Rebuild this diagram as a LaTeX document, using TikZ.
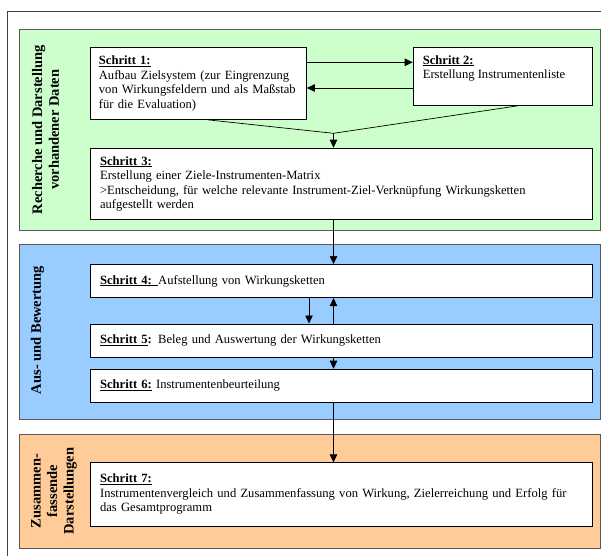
\documentclass[tikz,border=0pt]{standalone}
\usepackage{fontspec}
\setmainfont{Liberation Serif}
\usetikzlibrary{arrows.meta,calc}
\definecolor{greenbg}{HTML}{CCFFCC}
\definecolor{bluebg}{HTML}{99CCFF}
\definecolor{orangebg}{HTML}{FFCC99}
\newcommand{\bodyfnt}{\fontsize{12.6}{14.5}\selectfont}
\newcommand{\sidefnt}{\bfseries\fontsize{14.5}{16.6}\selectfont}
\newcommand{\ulbf}[1]{\leavevmode\setbox0=\hbox{\textbf{#1}}\rlap{\rule[-1.9pt]{\wd0}{1.1pt}}\box0\relax}
\begin{document}
\begin{tikzpicture}[x=1pt,y=-1pt,
  panel/.style={draw=black!65, line width=0.8pt, anchor=north west, inner sep=0pt, minimum width=580.5pt},
  stepbox/.style={draw=black, line width=0.8pt, fill=white, anchor=north west, align=left, inner xsep=9.7pt, inner ysep=0pt, font=\bodyfnt},
  sidelabel/.style={rotate=90, align=center, font=\sidefnt, inner sep=0pt},
  conn/.style={line width=0.7pt, -{Triangle[length=8pt,width=7.5pt]}},
  plainline/.style={line width=0.7pt}]
\useasboundingbox (0,0) rectangle (601,555);
% outer frame
\coordinate (fbl) at (7,556);
\coordinate (ftl) at (7,11);
\coordinate (ftr) at (602,11);
\draw[black!75, line width=0.8pt] (fbl) -- (ftl) -- (ftr);
% panels
\node[panel, fill=greenbg, minimum height=200.7pt] (p1) at (19.3,29.3) {};
\node[panel, fill=bluebg, minimum height=175.3pt] (p2) at (19.3,244) {};
\node[panel, fill=orangebg, minimum height=113.5pt] (p3) at (19.3,434) {};
% side labels
\node[sidelabel] (l1) at (45.5,129.7) {Recherche und Darstellung\\vorhandener Daten};
\node[sidelabel] (l2) at (37.5,330) {Aus- und Bewertung};
\node[sidelabel] (l3) at (54,491) {Zusammen-\\fassende\\Darstellungen};
% step boxes
\node[stepbox, minimum width=216pt, minimum height=71.7pt, inner xsep=8.5pt, text width=199pt] (s1) at (90,47.3)
  {\ulbf{Schritt 1:}\\Aufbau Zielsystem (zur Eingrenzung\\von Wirkungsfeldern und als Maßstab\\für die Evaluation)};
\node[stepbox, minimum width=179.3pt, minimum height=57.7pt] (s2) at (412.7,47.3)
  {\parbox[t][41.7pt][t]{159.9pt}{\ulbf{Schritt 2:}\\Erstellung Instrumentenliste}};
\node[stepbox, minimum width=502pt, minimum height=71.3pt, text width=482.6pt] (s3) at (90,147.7)
  {\ulbf{Schritt 3:}\\Erstellung einer Ziele-Instrumenten-Matrix\\>Entscheidung, für welche relevante Instrument-Ziel-Verknüpfung Wirkungsketten\\aufgestellt werden};
\node[stepbox, minimum width=502pt, minimum height=33.3pt, text width=482.6pt] (s4) at (90,264)
  {\ulbf{Schritt 4: }Aufstellung von Wirkungsketten};
\node[stepbox, minimum width=502pt, minimum height=33.8pt, text width=482.6pt] (s5) at (90,323.5)
  {\ulbf{Schritt 5}\textbf{:} Beleg und Auswertung der Wirkungsketten};
\node[stepbox, minimum width=502pt, minimum height=33.6pt, text width=482.6pt] (s6) at (90,368.7)
  {\ulbf{Schritt 6:} Instrumentenbeurteilung};
\node[stepbox, minimum width=502pt, minimum height=63.4pt, text width=482.6pt] (s7) at (90,462.3)
  {\ulbf{Schritt 7:}\\Instrumentenvergleich und Zusammenfassung von Wirkung, Zielerreichung und Erfolg für\\das Gesamtprogramm};
% connectors
\coordinate (axis) at (333.5,0);
\coordinate (axisb) at (309,0);
\coordinate (a12) at ([yshift=-15pt]s1.north east);
\draw[conn] (a12) -- (a12 -| s2.west);
\coordinate (a21) at ([yshift=-40.7pt]s2.north west);
\draw[conn] (a21) -- (a21 -| s1.east);
\coordinate (m) at (333.5,133.3);
\coordinate (b1) at ($(s1.south west)!0.542!(s1.south east)$);
\coordinate (b2) at ($(s2.south west)!0.584!(s2.south east)$);
\draw[plainline] (b1) -- (m) -- (b2);
\draw[conn] (m) -- (s3.north -| m);
\draw[conn] (s3.south -| axis) -- (s4.north -| axis);
\draw[conn] (s4.south -| axisb) -- (s5.north -| axisb);
\draw[conn] (s5.north -| axis) -- (s4.south -| axis);
\draw[conn] (s5.south -| axis) -- (s6.north -| axis);
\draw[conn] (s6.south -| axis) -- (s7.north -| axis);
\end{tikzpicture}
\end{document}
